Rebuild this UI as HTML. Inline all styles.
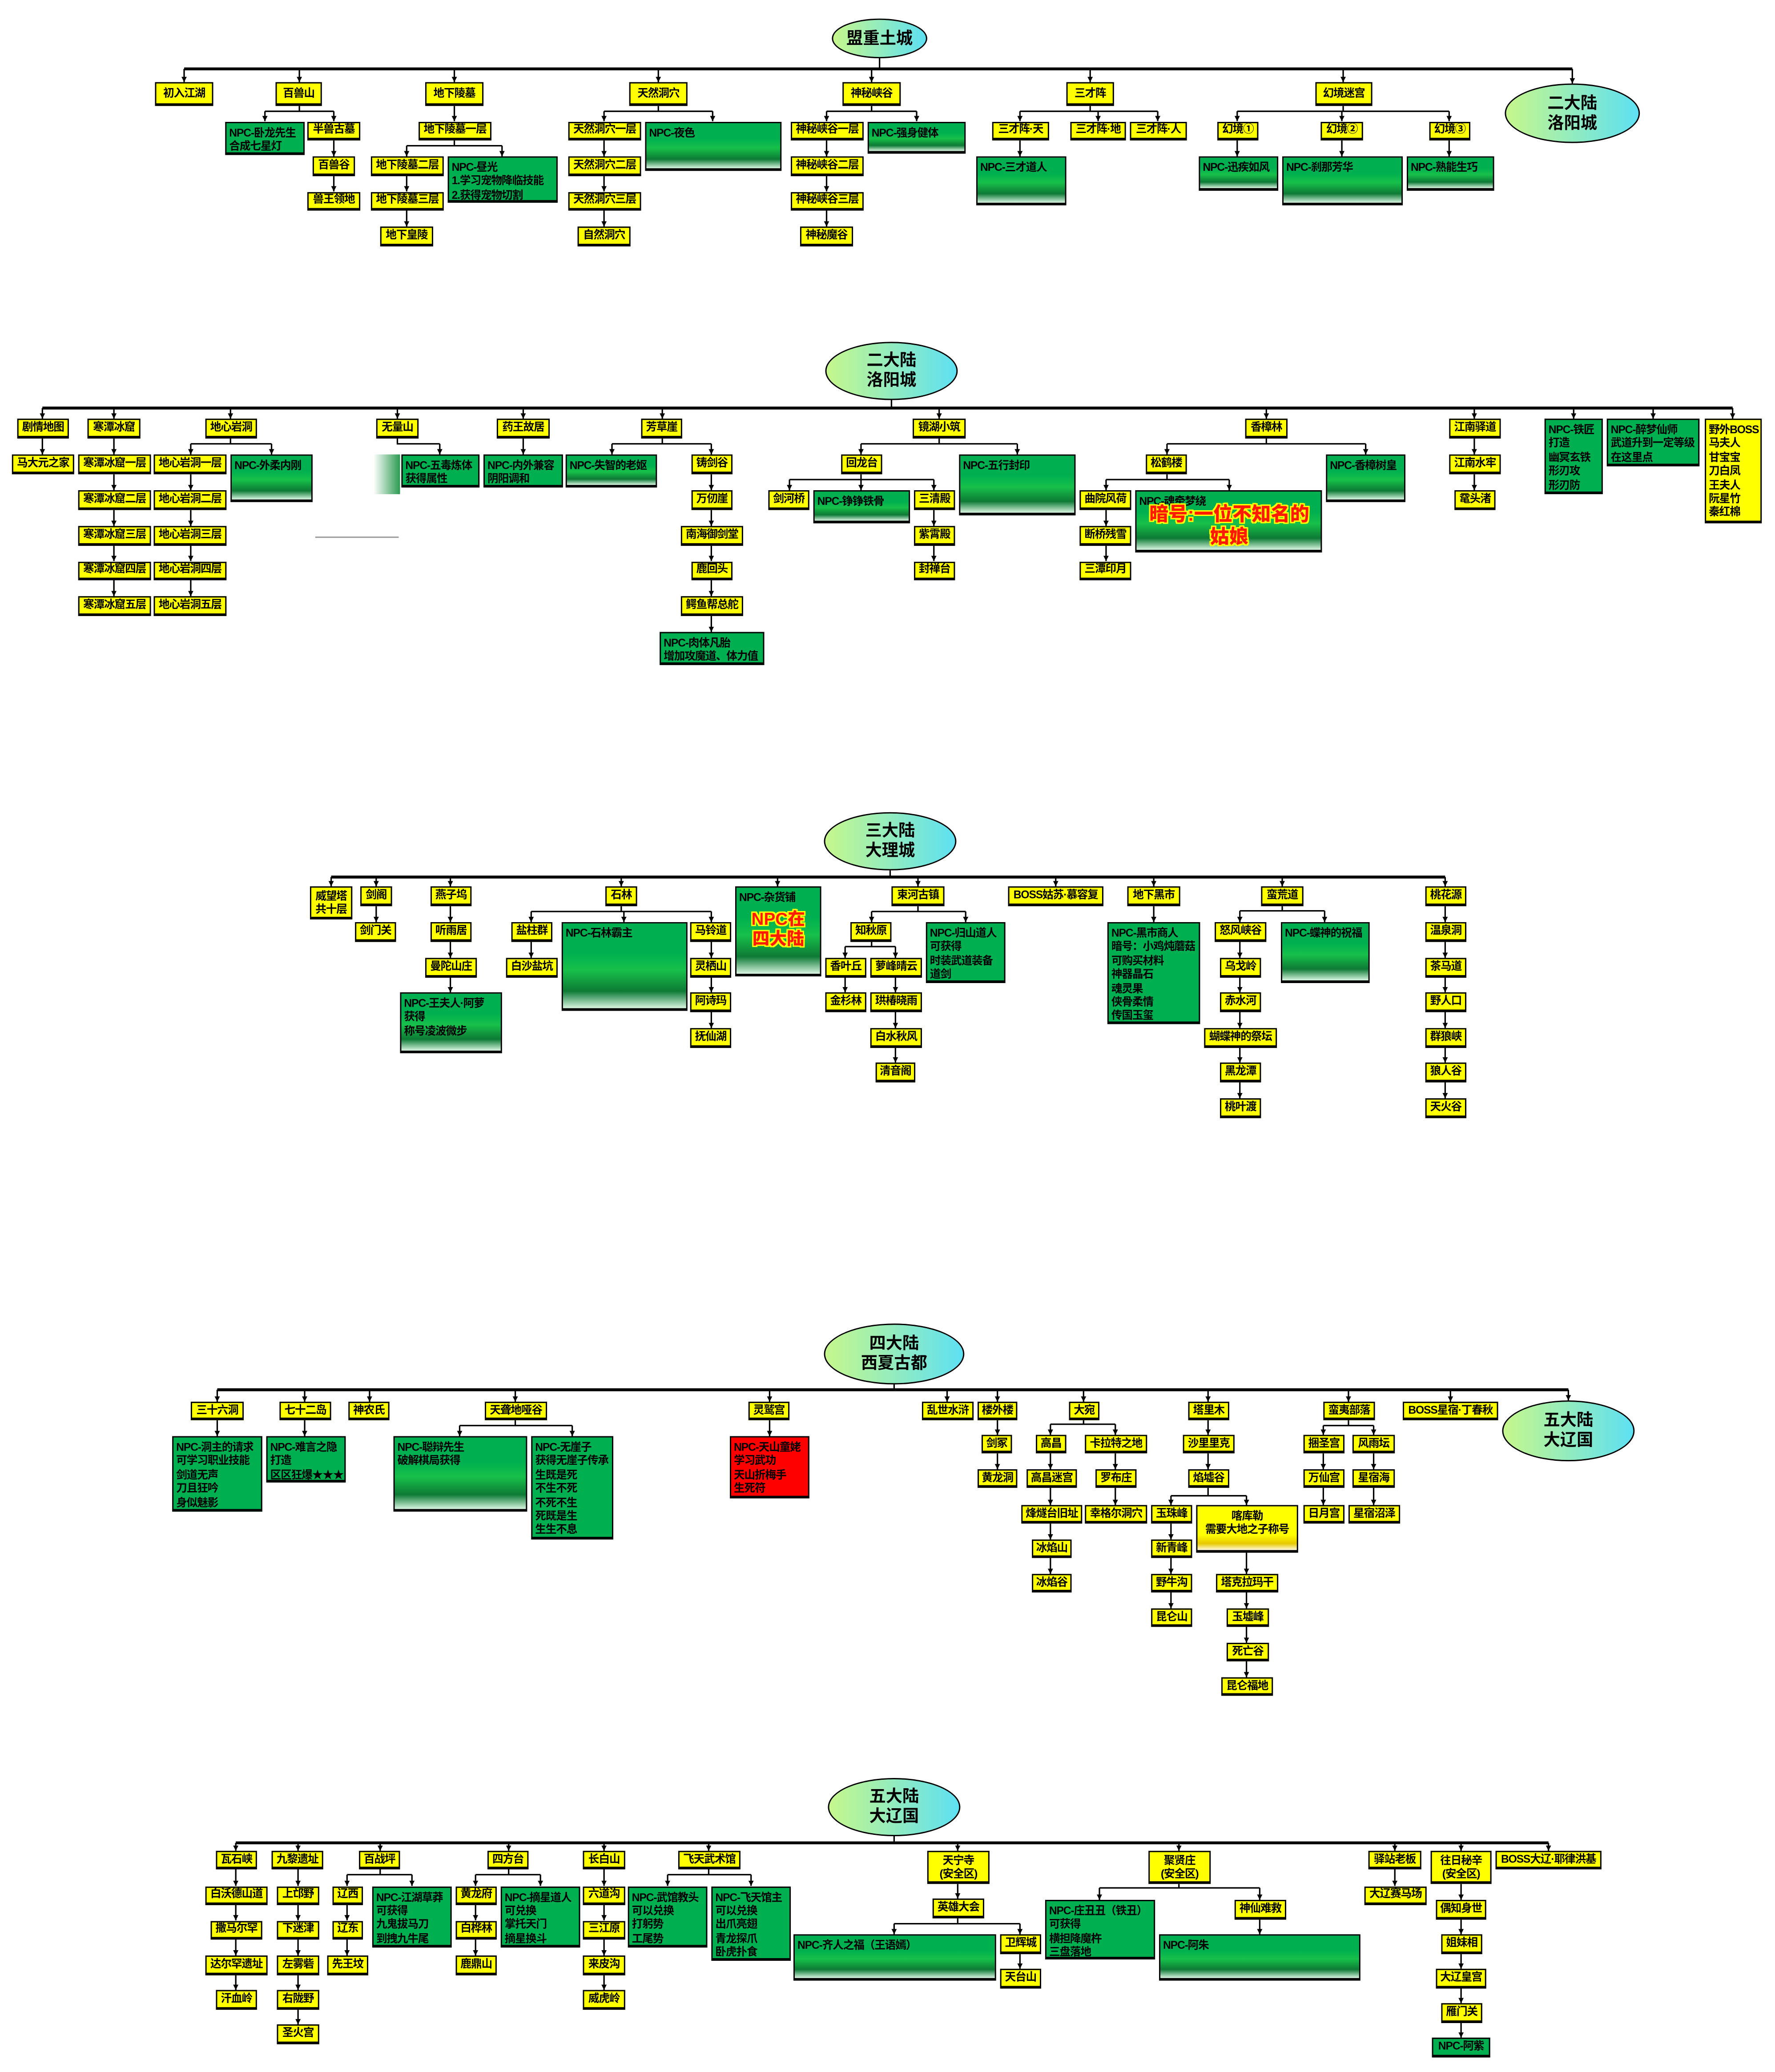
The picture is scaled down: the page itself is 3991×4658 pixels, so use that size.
<!DOCTYPE html>
<html><head><meta charset="utf-8">
<style>
html,body{margin:0;padding:0;background:#fff;}
body{width:3991px;height:4657px;overflow:hidden;position:relative;}
#c{position:absolute;left:0;top:0;width:1340px;height:1564px;transform:scale(2.97836);transform-origin:0 0;}
.b{position:absolute;box-sizing:border-box;border:1.2px solid #000;border-bottom-width:2px;border-top-width:1.6px;font-family:"Liberation Sans","Noto Sans CJK SC",sans-serif;font-weight:bold;font-size:8.3px;letter-spacing:-0.4px;display:flex;align-items:center;justify-content:center;white-space:nowrap;color:#000;overflow:visible;text-align:center;line-height:1.2;}
.y{background:#ffff00;}
.g{background:#00b050;display:block;text-align:left;padding:2px 2px;line-height:10.4px;}
.gb{background:linear-gradient(#00b050 0,#00b050 35%,#17c04a 55%,#0d7a35 80%,#d8f5e0 100%);}
.r{background:#ff0000;display:block;text-align:left;padding:2px 2px;line-height:10.4px;}
.e{position:absolute;box-sizing:border-box;border:1.6px solid #000;border-radius:50%;background:linear-gradient(90deg,#c6f78c,#5ee0f2);font-family:"Liberation Sans","Noto Sans CJK SC",sans-serif;font-weight:bold;font-size:12.5px;line-height:15px;display:flex;align-items:center;justify-content:center;text-align:center;}
.big{position:absolute;font-family:"Liberation Sans","Noto Sans CJK SC",sans-serif;font-weight:900;color:#ff1a00;text-shadow:1px 0 #ff0,-1px 0 #ff0,0 1px #ff0,0 -1px #ff0,1px 1px #ff0,-1px -1px #ff0,1px -1px #ff0,-1px 1px #ff0;white-space:nowrap;text-align:center;}
svg{position:absolute;left:0;top:0;}
svg line,svg path{stroke:#000;stroke-width:1.1;fill:none;}
svg .m{stroke-width:2.2;}
</style></head><body><div id="c">
<svg width="1340" height="1564" viewBox="0 0 1340 1564">
<defs><marker id="a" markerUnits="userSpaceOnUse" markerWidth="4" markerHeight="4" refX="4" refY="2" orient="auto"><path d="M0,0 L4,2 L0,4 z" style="fill:#000;stroke:none"/></marker></defs>
<g marker-end="url(#a)">
<!-- ROW1 -->
<path class="m" d="M139,52 H1187" marker-end="none"/>
<line x1="664" y1="44" x2="664" y2="52" marker-end="none"/>
<line x1="139" y1="52" x2="139" y2="62"/><line x1="226" y1="52" x2="226" y2="62"/><line x1="343" y1="52" x2="343" y2="62"/><line x1="497" y1="52" x2="497" y2="62"/><line x1="658" y1="52" x2="658" y2="62"/><line x1="823" y1="52" x2="823" y2="62"/><line x1="1014" y1="52" x2="1014" y2="62"/><line x1="1187" y1="52" x2="1187" y2="63"/>
<path d="M226,80 V84 M200,84 H252" marker-end="none"/><line x1="200" y1="84" x2="200" y2="91.5"/><line x1="252" y1="84" x2="252" y2="91.5"/>
<line x1="252" y1="106" x2="252" y2="118"/><line x1="252" y1="132" x2="252" y2="144.5"/>
<line x1="343" y1="80" x2="343" y2="91.5"/>
<path d="M343,106 V110 M307,110 H379" marker-end="none"/><line x1="307" y1="110" x2="307" y2="118"/><line x1="379" y1="110" x2="379" y2="118"/>
<line x1="307" y1="132" x2="307" y2="144.5"/><line x1="307" y1="158.5" x2="307" y2="171"/>
<path d="M497,80 V84 M456,84 H538" marker-end="none"/><line x1="456" y1="84" x2="456" y2="91.5"/><line x1="538" y1="84" x2="538" y2="91.5"/>
<line x1="456" y1="106" x2="456" y2="118"/><line x1="456" y1="132" x2="456" y2="144.5"/><line x1="456" y1="158.5" x2="456" y2="171"/>
<path d="M658,80 V84 M624,84 H692" marker-end="none"/><line x1="624" y1="84" x2="624" y2="91.5"/><line x1="692" y1="84" x2="692" y2="91.5"/>
<line x1="624" y1="106" x2="624" y2="118"/><line x1="624" y1="132" x2="624" y2="144.5"/><line x1="624" y1="158.5" x2="624" y2="171"/>
<path d="M823,80 V84 M770,84 H874" marker-end="none"/><line x1="770" y1="84" x2="770" y2="91.5"/><line x1="829" y1="84" x2="829" y2="91.5"/><line x1="874" y1="84" x2="874" y2="91.5"/>
<line x1="770" y1="106" x2="770" y2="118"/>
<path d="M1014,80 V84 M934,84 H1094" marker-end="none"/><line x1="934" y1="84" x2="934" y2="91.5"/><line x1="1013" y1="84" x2="1013" y2="91.5"/><line x1="1094" y1="84" x2="1094" y2="91.5"/>
<line x1="934" y1="106" x2="934" y2="118"/><line x1="1013" y1="106" x2="1013" y2="118"/><line x1="1094" y1="106" x2="1094" y2="118"/>
<!-- ROW2 -->
<path class="m" d="M32,308 H1308" marker-end="none"/>
<line x1="673" y1="302" x2="673" y2="308" marker-end="none"/>
<line x1="32" y1="308" x2="32" y2="316"/><line x1="86" y1="308" x2="86" y2="316"/><line x1="174" y1="308" x2="174" y2="316"/><line x1="300" y1="308" x2="300" y2="316"/><line x1="395" y1="308" x2="395" y2="316"/><line x1="500" y1="308" x2="500" y2="316"/><line x1="709" y1="308" x2="709" y2="316"/><line x1="956" y1="308" x2="956" y2="316"/><line x1="1113" y1="308" x2="1113" y2="316"/><line x1="1188" y1="308" x2="1188" y2="316"/><line x1="1248" y1="308" x2="1248" y2="316"/><line x1="1308" y1="308" x2="1308" y2="316"/>
<line x1="32" y1="331" x2="32" y2="343"/>
<line x1="86" y1="331" x2="86" y2="343"/><line x1="86" y1="358" x2="86" y2="370"/><line x1="86" y1="385" x2="86" y2="397"/><line x1="86" y1="411.5" x2="86" y2="423.5"/><line x1="86" y1="438" x2="86" y2="450"/>
<path d="M174,331 V335 M144,335 H205" marker-end="none"/><line x1="144" y1="335" x2="144" y2="343"/><line x1="205" y1="335" x2="205" y2="343"/>
<line x1="144" y1="358" x2="144" y2="370"/><line x1="144" y1="385" x2="144" y2="397"/><line x1="144" y1="411.5" x2="144" y2="423.5"/><line x1="144" y1="438" x2="144" y2="450"/>
<path d="M300,331 V335 H332" marker-end="none"/><line x1="332" y1="335" x2="332" y2="343"/>
<line x1="395" y1="331" x2="395" y2="343"/>
<path d="M500,331 V335 M462,335 H537" marker-end="none"/><line x1="462" y1="335" x2="462" y2="343"/><line x1="537" y1="335" x2="537" y2="343"/>
<line x1="537" y1="358" x2="537" y2="370"/><line x1="537" y1="385" x2="537" y2="397"/><line x1="537" y1="411.5" x2="537" y2="423.5"/><line x1="537" y1="438" x2="537" y2="450"/><line x1="537" y1="464.5" x2="537" y2="477"/>
<path d="M709,331 V335 M650,335 H768" marker-end="none"/><line x1="650" y1="335" x2="650" y2="343"/><line x1="768" y1="335" x2="768" y2="343"/>
<path d="M650,358 V362 M596,362 H705" marker-end="none"/><line x1="596" y1="362" x2="596" y2="370"/><line x1="650" y1="362" x2="650" y2="370"/><line x1="705" y1="362" x2="705" y2="370"/>
<line x1="705" y1="385" x2="705" y2="397"/><line x1="705" y1="411.5" x2="705" y2="423.5"/>
<path d="M956,331 V335 M881,335 H1031" marker-end="none"/><line x1="881" y1="335" x2="881" y2="343"/><line x1="1031" y1="335" x2="1031" y2="343"/>
<path d="M881,358 V362 M835,362 H928" marker-end="none"/><line x1="835" y1="362" x2="835" y2="370"/><line x1="928" y1="362" x2="928" y2="370"/>
<line x1="835" y1="385" x2="835" y2="397"/><line x1="835" y1="411.5" x2="835" y2="423.5"/>
<line x1="1113" y1="331" x2="1113" y2="343"/><line x1="1113" y1="358" x2="1113" y2="370"/>
<!-- ROW3 -->
<path class="m" d="M250,662 H1091" marker-end="none"/>
<line x1="672" y1="657" x2="672" y2="662" marker-end="none"/>
<line x1="250" y1="662" x2="250" y2="669"/><line x1="284" y1="662" x2="284" y2="669"/><line x1="340" y1="662" x2="340" y2="669"/><line x1="469" y1="662" x2="469" y2="669"/><line x1="587" y1="662" x2="587" y2="669"/><line x1="693" y1="662" x2="693" y2="669"/><line x1="797" y1="662" x2="797" y2="669"/><line x1="871" y1="662" x2="871" y2="669"/><line x1="968" y1="662" x2="968" y2="669"/><line x1="1091" y1="662" x2="1091" y2="669"/>
<line x1="284" y1="684" x2="284" y2="696"/>
<line x1="340" y1="684" x2="340" y2="696"/><line x1="340" y1="710.5" x2="340" y2="723"/><line x1="340" y1="737.5" x2="340" y2="749"/>
<path d="M469,684 V688 M401,688 H537" marker-end="none"/><line x1="401" y1="688" x2="401" y2="696"/><line x1="471" y1="688" x2="471" y2="696"/><line x1="537" y1="688" x2="537" y2="696"/>
<line x1="401" y1="710.5" x2="401" y2="723"/>
<line x1="537" y1="710.5" x2="537" y2="723"/><line x1="537" y1="737.5" x2="537" y2="749"/><line x1="537" y1="763.5" x2="537" y2="776"/>
<path d="M693,684 V688 M658,688 H729" marker-end="none"/><line x1="658" y1="688" x2="658" y2="696"/><line x1="729" y1="688" x2="729" y2="696"/>
<path d="M658,710.5 V714.5 M638,714.5 H676" marker-end="none"/><line x1="638" y1="714.5" x2="638" y2="723"/><line x1="676" y1="714.5" x2="676" y2="723"/>
<line x1="638" y1="737.5" x2="638" y2="749"/><line x1="676" y1="737.5" x2="676" y2="749"/><line x1="676" y1="763.5" x2="676" y2="776"/><line x1="676" y1="790.5" x2="676" y2="802"/>
<line x1="871" y1="684" x2="871" y2="696"/>
<path d="M968,684 V687.5 M936,687.5 H1000" marker-end="none"/><line x1="936" y1="687.5" x2="936" y2="696"/><line x1="1000" y1="687.5" x2="1000" y2="696"/>
<line x1="936" y1="710.5" x2="936" y2="723"/><line x1="936" y1="737.5" x2="936" y2="749"/><line x1="936" y1="763.5" x2="936" y2="776"/><line x1="936" y1="790.5" x2="936" y2="802"/><line x1="936" y1="816.5" x2="936" y2="829"/>
<line x1="1091" y1="684" x2="1091" y2="696"/><line x1="1091" y1="710.5" x2="1091" y2="723"/><line x1="1091" y1="737.5" x2="1091" y2="749"/><line x1="1091" y1="763.5" x2="1091" y2="776"/><line x1="1091" y1="790.5" x2="1091" y2="802"/><line x1="1091" y1="816.5" x2="1091" y2="829"/>
<!-- ROW4 -->
<path class="m" d="M164,1049 H1184" marker-end="none"/>
<line x1="675" y1="1045" x2="675" y2="1049" marker-end="none"/>
<line x1="164" y1="1049" x2="164" y2="1058"/><line x1="230" y1="1049" x2="230" y2="1058"/><line x1="279" y1="1049" x2="279" y2="1058"/><line x1="389" y1="1049" x2="389" y2="1058"/><line x1="581" y1="1049" x2="581" y2="1058"/><line x1="715" y1="1049" x2="715" y2="1058"/><line x1="753" y1="1049" x2="753" y2="1058"/><line x1="818" y1="1049" x2="818" y2="1058"/><line x1="912" y1="1049" x2="912" y2="1058"/><line x1="1018" y1="1049" x2="1018" y2="1058"/><line x1="1095" y1="1049" x2="1095" y2="1058"/><line x1="1184" y1="1049" x2="1184" y2="1057"/>
<line x1="164" y1="1072" x2="164" y2="1084"/><line x1="230" y1="1072" x2="230" y2="1084"/>
<path d="M389,1072 V1076 M347,1076 H432" marker-end="none"/><line x1="347" y1="1076" x2="347" y2="1084"/><line x1="432" y1="1076" x2="432" y2="1084"/>
<line x1="581" y1="1072" x2="581" y2="1084"/>
<line x1="753" y1="1072" x2="753" y2="1083"/><line x1="753" y1="1097" x2="753" y2="1109"/>
<path d="M818,1072 V1075 M793,1075 H842" marker-end="none"/><line x1="793" y1="1075" x2="793" y2="1083"/><line x1="842" y1="1075" x2="842" y2="1083"/>
<line x1="793" y1="1097" x2="793" y2="1109"/><line x1="793" y1="1123" x2="793" y2="1136"/><line x1="793" y1="1150" x2="793" y2="1162"/><line x1="793" y1="1176" x2="793" y2="1188"/>
<line x1="842" y1="1097" x2="842" y2="1109"/><line x1="842" y1="1123" x2="842" y2="1136"/>
<line x1="912" y1="1072" x2="912" y2="1083"/><line x1="912" y1="1097" x2="912" y2="1109"/>
<path d="M912,1123 V1129 M884,1129 H941" marker-end="none"/><line x1="884" y1="1129" x2="884" y2="1136"/><line x1="941" y1="1129" x2="941" y2="1136"/>
<line x1="884" y1="1150" x2="884" y2="1162"/><line x1="884" y1="1176" x2="884" y2="1188"/><line x1="884" y1="1202" x2="884" y2="1214"/>
<line x1="941" y1="1172" x2="941" y2="1188"/><line x1="941" y1="1202" x2="941" y2="1214"/><line x1="941" y1="1228" x2="941" y2="1240"/><line x1="941" y1="1254" x2="941" y2="1266"/>
<path d="M1018,1072 V1076 M999,1076 H1037" marker-end="none"/><line x1="999" y1="1076" x2="999" y2="1083"/><line x1="1037" y1="1076" x2="1037" y2="1083"/>
<line x1="999" y1="1097" x2="999" y2="1109"/><line x1="999" y1="1123" x2="999" y2="1136"/><line x1="1037" y1="1097" x2="1037" y2="1109"/><line x1="1037" y1="1123" x2="1037" y2="1136"/>
<!-- ROW5 -->
<path class="m" d="M178,1391 H1169" marker-end="none"/>
<line x1="675" y1="1386" x2="675" y2="1391" marker-end="none"/>
<line x1="178" y1="1391" x2="178" y2="1397"/><line x1="225" y1="1391" x2="225" y2="1397"/><line x1="287" y1="1391" x2="287" y2="1397"/><line x1="384" y1="1391" x2="384" y2="1397"/><line x1="456" y1="1391" x2="456" y2="1397"/><line x1="535" y1="1391" x2="535" y2="1397"/><line x1="723" y1="1391" x2="723" y2="1397"/><line x1="890" y1="1391" x2="890" y2="1397"/><line x1="1053" y1="1391" x2="1053" y2="1397"/><line x1="1103" y1="1391" x2="1103" y2="1397"/><line x1="1169" y1="1391" x2="1169" y2="1397"/>
<line x1="178" y1="1411" x2="178" y2="1423.5"/><line x1="178" y1="1438" x2="178" y2="1449.5"/><line x1="178" y1="1464" x2="178" y2="1476"/><line x1="178" y1="1490.5" x2="178" y2="1502"/>
<line x1="225" y1="1411" x2="225" y2="1423.5"/><line x1="225" y1="1438" x2="225" y2="1449.5"/><line x1="225" y1="1464" x2="225" y2="1476"/><line x1="225" y1="1490.5" x2="225" y2="1502"/><line x1="225" y1="1516.5" x2="225" y2="1528"/>
<path d="M287,1411 V1415 M262,1415 H311" marker-end="none"/><line x1="262" y1="1415" x2="262" y2="1423.5"/><line x1="311" y1="1415" x2="311" y2="1423.5"/>
<line x1="262" y1="1438" x2="262" y2="1449.5"/><line x1="262" y1="1464" x2="262" y2="1476"/>
<path d="M384,1411 V1415 M359,1415 H408" marker-end="none"/><line x1="359" y1="1415" x2="359" y2="1423.5"/><line x1="408" y1="1415" x2="408" y2="1423.5"/>
<line x1="359" y1="1438" x2="359" y2="1449.5"/><line x1="359" y1="1464" x2="359" y2="1476"/>
<line x1="456" y1="1411" x2="456" y2="1423.5"/><line x1="456" y1="1438" x2="456" y2="1449.5"/><line x1="456" y1="1464" x2="456" y2="1476"/><line x1="456" y1="1490.5" x2="456" y2="1502"/>
<path d="M535,1411 V1415 M504,1415 H567" marker-end="none"/><line x1="504" y1="1415" x2="504" y2="1423.5"/><line x1="567" y1="1415" x2="567" y2="1423.5"/>
<line x1="723" y1="1422" x2="723" y2="1433"/>
<path d="M723,1448 V1452 M675,1452 H770" marker-end="none"/><line x1="675" y1="1452" x2="675" y2="1460"/><line x1="770" y1="1452" x2="770" y2="1460"/>
<line x1="770" y1="1474" x2="770" y2="1486"/>
<path d="M890,1422 V1425 M830,1425 H951" marker-end="none"/><line x1="830" y1="1425" x2="830" y2="1434"/><line x1="951" y1="1425" x2="951" y2="1434"/>
<line x1="951" y1="1448" x2="951" y2="1460"/>
<line x1="1053" y1="1411" x2="1053" y2="1423.5"/>
<line x1="1103" y1="1422" x2="1103" y2="1434"/><line x1="1103" y1="1448" x2="1103" y2="1460"/><line x1="1103" y1="1474" x2="1103" y2="1486"/><line x1="1103" y1="1500.5" x2="1103" y2="1512"/><line x1="1103" y1="1527" x2="1103" y2="1538"/>
</g>
</svg>

<!-- ROW1 -->
<div class="e" style="left:628px;top:14px;width:72px;height:30px">盟重土城</div>
<div class="e" style="left:1136px;top:63px;width:102px;height:45px">二大陆<br>洛阳城</div>
<div class="b y" style="left:117px;top:62px;width:44px;height:18px">初入江湖</div>
<div class="b y" style="left:208px;top:62px;width:35px;height:18px">百兽山</div>
<div class="b y" style="left:321px;top:62px;width:44px;height:18px">地下陵墓</div>
<div class="b y" style="left:475px;top:62px;width:44px;height:18px">天然洞穴</div>
<div class="b y" style="left:636px;top:62px;width:44px;height:18px">神秘峡谷</div>
<div class="b y" style="left:805px;top:62px;width:36px;height:18px">三才阵</div>
<div class="b y" style="left:993px;top:62px;width:43px;height:18px">幻境迷宫</div>
<div class="b g" style="left:170px;top:91.5px;width:60px;height:25px">NPC-卧龙先生<br>合成七星灯</div>
<div class="b y" style="left:232px;top:91.5px;width:40px;height:14.5px">半兽古墓</div>
<div class="b y" style="left:236px;top:118px;width:32px;height:14.5px">百兽谷</div>
<div class="b y" style="left:232px;top:144.5px;width:40px;height:14.5px">兽王领地</div>
<div class="b y" style="left:316px;top:91.5px;width:55px;height:14.5px">地下陵墓一层</div>
<div class="b y" style="left:280px;top:118px;width:55px;height:14.5px">地下陵墓二层</div>
<div class="b g" style="left:338px;top:118px;width:83px;height:35px">NPC-昼光<br>1.学习宠物降临技能<br>2.获得宠物切割</div>
<div class="b y" style="left:280px;top:144.5px;width:55px;height:14.5px">地下陵墓三层</div>
<div class="b y" style="left:287px;top:171px;width:40px;height:14.5px">地下皇陵</div>
<div class="b y" style="left:429px;top:91.5px;width:55px;height:14.5px">天然洞穴一层</div>
<div class="b g gb" style="left:487px;top:91.5px;width:103px;height:37px">NPC-夜色</div>
<div class="b y" style="left:429px;top:118px;width:55px;height:14.5px">天然洞穴二层</div>
<div class="b y" style="left:429px;top:144.5px;width:55px;height:14.5px">天然洞穴三层</div>
<div class="b y" style="left:436px;top:171px;width:40px;height:14.5px">自然洞穴</div>
<div class="b y" style="left:597px;top:91.5px;width:55px;height:14.5px">神秘峡谷一层</div>
<div class="b g gb" style="left:655px;top:91.5px;width:74px;height:24px">NPC-强身健体</div>
<div class="b y" style="left:597px;top:118px;width:55px;height:14.5px">神秘峡谷二层</div>
<div class="b y" style="left:597px;top:144.5px;width:55px;height:14.5px">神秘峡谷三层</div>
<div class="b y" style="left:604px;top:171px;width:40px;height:14.5px">神秘魔谷</div>
<div class="b y" style="left:749px;top:91.5px;width:43px;height:14.5px">三才阵·天</div>
<div class="b y" style="left:808px;top:91.5px;width:42px;height:14.5px">三才阵·地</div>
<div class="b y" style="left:853px;top:91.5px;width:43px;height:14.5px">三才阵·人</div>
<div class="b g gb" style="left:737px;top:118px;width:68px;height:37px">NPC-三才道人</div>
<div class="b y" style="left:919px;top:91.5px;width:31px;height:14.5px">幻境①</div>
<div class="b y" style="left:997px;top:91.5px;width:32px;height:14.5px">幻境②</div>
<div class="b y" style="left:1079px;top:91.5px;width:31px;height:14.5px">幻境③</div>
<div class="b g gb" style="left:905px;top:118px;width:60px;height:26px">NPC-迅疾如风</div>
<div class="b g gb" style="left:968px;top:118px;width:91px;height:37px">NPC-刹那芳华</div>
<div class="b g gb" style="left:1062px;top:118px;width:66px;height:26px">NPC-熟能生巧</div>

<!-- ROW2 -->
<div class="e" style="left:623px;top:258px;width:100px;height:44px">二大陆<br>洛阳城</div>
<div class="b y" style="left:13px;top:316px;width:39px;height:15px">剧情地图</div>
<div class="b y" style="left:66px;top:316px;width:40px;height:15px">寒潭冰窟</div>
<div class="b y" style="left:155px;top:316px;width:39px;height:15px">地心岩洞</div>
<div class="b y" style="left:284px;top:316px;width:32px;height:15px">无量山</div>
<div class="b y" style="left:375px;top:316px;width:40px;height:15px">药王故居</div>
<div class="b y" style="left:484px;top:316px;width:31px;height:15px">芳草崖</div>
<div class="b y" style="left:689px;top:316px;width:40px;height:15px">镜湖小筑</div>
<div class="b y" style="left:940px;top:316px;width:32px;height:15px">香樟林</div>
<div class="b y" style="left:1094px;top:316px;width:39px;height:15px">江南驿道</div>
<div class="b g" style="left:1166px;top:316px;width:44px;height:57px">NPC-铁匠<br>打造<br>幽冥玄铁<br>形刃攻<br>形刃防</div>
<div class="b g" style="left:1213px;top:316px;width:70px;height:36px">NPC-醉梦仙师<br>武道升到一定等级<br>在这里点</div>
<div class="b y" style="left:1287px;top:316px;width:43px;height:79px;display:block;text-align:left;padding:2px;line-height:10.4px">野外BOSS<br>马夫人<br>甘宝宝<br>刀白凤<br>王夫人<br>阮星竹<br>秦红棉</div>
<div class="b y" style="left:9px;top:343px;width:47px;height:15px">马大元之家</div>
<div class="b y" style="left:59px;top:343px;width:55px;height:15px">寒潭冰窟一层</div>
<div class="b y" style="left:59px;top:370px;width:55px;height:15px">寒潭冰窟二层</div>
<div class="b y" style="left:59px;top:397px;width:55px;height:14.5px">寒潭冰窟三层</div>
<div class="b y" style="left:59px;top:423.5px;width:55px;height:14.5px">寒潭冰窟四层</div>
<div class="b y" style="left:59px;top:450px;width:55px;height:14.5px">寒潭冰窟五层</div>
<div class="b y" style="left:116px;top:343px;width:55px;height:15px">地心岩洞一层</div>
<div class="b y" style="left:116px;top:370px;width:55px;height:15px">地心岩洞二层</div>
<div class="b y" style="left:116px;top:397px;width:55px;height:14.5px">地心岩洞三层</div>
<div class="b y" style="left:116px;top:423.5px;width:55px;height:14.5px">地心岩洞四层</div>
<div class="b y" style="left:116px;top:450px;width:55px;height:14.5px">地心岩洞五层</div>
<div class="b g gb" style="left:174px;top:343px;width:62px;height:36px">NPC-外柔内刚</div>
<div style="position:absolute;left:238px;top:405px;width:63px;height:1px;background:#999"></div>
<div style="position:absolute;left:282px;top:343px;width:20px;height:30px;background:linear-gradient(90deg,#fff,#2a9a50)"></div>
<div class="b g" style="left:303px;top:343px;width:59px;height:25px">NPC-五毒炼体<br>获得属性</div>
<div class="b g" style="left:365px;top:343px;width:60px;height:25px">NPC-内外兼容<br>阴阳调和</div>
<div class="b g gb" style="left:427px;top:343px;width:69px;height:25px">NPC-失智的老妪</div>
<div class="b y" style="left:522px;top:343px;width:31px;height:15px">铸剑谷</div>
<div class="b y" style="left:522px;top:370px;width:31px;height:15px">万仞崖</div>
<div class="b y" style="left:514px;top:397px;width:47px;height:14.5px">南海御剑堂</div>
<div class="b y" style="left:522px;top:423.5px;width:31px;height:14.5px">鹿回头</div>
<div class="b y" style="left:514px;top:450px;width:47px;height:14.5px">鳄鱼帮总舵</div>
<div class="b g" style="left:498px;top:477px;width:79px;height:25px">NPC-肉体凡胎<br>增加攻魔道、体力值</div>
<div class="b y" style="left:635px;top:343px;width:31px;height:15px">回龙台</div>
<div class="b g gb" style="left:724px;top:343px;width:88px;height:46px">NPC-五行封印</div>
<div class="b y" style="left:580px;top:370px;width:31px;height:15px">剑河桥</div>
<div class="b g gb" style="left:614px;top:370px;width:73px;height:25px">NPC-铮铮铁骨</div>
<div class="b y" style="left:690px;top:370px;width:31px;height:15px">三清殿</div>
<div class="b y" style="left:690px;top:397px;width:31px;height:14.5px">紫霄殿</div>
<div class="b y" style="left:690px;top:423.5px;width:31px;height:14.5px">封禅台</div>
<div class="b y" style="left:865px;top:343px;width:31px;height:15px">松鹤楼</div>
<div class="b g gb" style="left:1001px;top:343px;width:60px;height:36px">NPC-香樟树皇</div>
<div class="b y" style="left:815px;top:370px;width:39px;height:15px">曲院风荷</div>
<div class="b g gb" style="left:857px;top:370px;width:141px;height:47px">NPC-魂牵梦绕</div>
<div class="big" style="left:860px;top:381px;width:136px;font-size:14.5px;line-height:17px">暗号:一位不知名的<br>姑娘</div>
<div class="b y" style="left:815px;top:397px;width:39px;height:14.5px">断桥残雪</div>
<div class="b y" style="left:815px;top:423.5px;width:39px;height:14.5px">三潭印月</div>
<div class="b y" style="left:1094px;top:343px;width:39px;height:15px">江南水牢</div>
<div class="b y" style="left:1098px;top:370px;width:31px;height:15px">鼋头渚</div>

<!-- ROW3 -->
<div class="e" style="left:622px;top:613px;width:100px;height:44px">三大陆<br>大理城</div>
<div class="b y" style="left:234px;top:669px;width:32px;height:25px;line-height:10.5px">威望塔<br>共十层</div>
<div class="b y" style="left:272px;top:669px;width:24px;height:15px">剑阁</div>
<div class="b y" style="left:325px;top:669px;width:31px;height:15px">燕子坞</div>
<div class="b y" style="left:457px;top:669px;width:24px;height:15px">石林</div>
<div class="b g gb" style="left:555px;top:669px;width:65px;height:68px">NPC-杂货铺</div>
<div class="big" style="left:557px;top:686px;width:61px;font-size:13px;line-height:15px">NPC在<br>四大陆</div>
<div class="b y" style="left:673px;top:669px;width:40px;height:15px">束河古镇</div>
<div class="b y" style="left:761px;top:669px;width:72px;height:15px">BOSS姑苏·慕容复</div>
<div class="b y" style="left:851px;top:669px;width:40px;height:15px">地下黑市</div>
<div class="b y" style="left:952px;top:669px;width:32px;height:15px">蛮荒道</div>
<div class="b y" style="left:1076px;top:669px;width:31px;height:15px">桃花源</div>
<div class="b y" style="left:268px;top:696px;width:31px;height:14.5px">剑门关</div>
<div class="b y" style="left:325px;top:696px;width:31px;height:14.5px">听雨居</div>
<div class="b y" style="left:321px;top:723px;width:39px;height:14.5px">曼陀山庄</div>
<div class="b g gb" style="left:302px;top:749px;width:77px;height:46px">NPC-王夫人·阿萝<br>获得<br>称号凌波微步</div>
<div class="b y" style="left:386px;top:696px;width:31px;height:14.5px">盐柱群</div>
<div class="b y" style="left:382px;top:723px;width:39px;height:14.5px">白沙盐坑</div>
<div class="b g gb" style="left:424px;top:696px;width:95px;height:67px">NPC-石林霸主</div>
<div class="b y" style="left:521px;top:696px;width:31px;height:14.5px">马铃道</div>
<div class="b y" style="left:521px;top:723px;width:31px;height:14.5px">灵栖山</div>
<div class="b y" style="left:521px;top:749px;width:31px;height:14.5px">阿诗玛</div>
<div class="b y" style="left:521px;top:776px;width:31px;height:14.5px">抚仙湖</div>
<div class="b y" style="left:642px;top:696px;width:31px;height:14.5px">知秋原</div>
<div class="b g" style="left:699px;top:696px;width:60px;height:46px">NPC-归山道人<br>可获得<br>时装武道装备<br>道剑</div>
<div class="b y" style="left:623px;top:723px;width:31px;height:14.5px">香叶丘</div>
<div class="b y" style="left:657px;top:723px;width:39px;height:14.5px">萝峰晴云</div>
<div class="b y" style="left:623px;top:749px;width:31px;height:14.5px">金杉林</div>
<div class="b y" style="left:657px;top:749px;width:39px;height:14.5px">珙椿晓雨</div>
<div class="b y" style="left:657px;top:776px;width:39px;height:14.5px">白水秋风</div>
<div class="b y" style="left:661px;top:802px;width:30px;height:14.5px">清音阁</div>
<div class="b g" style="left:836px;top:696px;width:70px;height:77px">NPC-黑市商人<br>暗号：小鸡炖蘑菇<br>可购买材料<br>神器晶石<br>魂灵果<br>侠骨柔情<br>传国玉玺</div>
<div class="b y" style="left:917px;top:696px;width:39px;height:14.5px">怒风峡谷</div>
<div class="b g gb" style="left:967px;top:696px;width:67px;height:46px">NPC-蝶神的祝福</div>
<div class="b y" style="left:921px;top:723px;width:31px;height:14.5px">乌戈岭</div>
<div class="b y" style="left:921px;top:749px;width:31px;height:14.5px">赤水河</div>
<div class="b y" style="left:909px;top:776px;width:55px;height:14.5px">蝴蝶神的祭坛</div>
<div class="b y" style="left:921px;top:802px;width:31px;height:14.5px">黑龙潭</div>
<div class="b y" style="left:921px;top:829px;width:31px;height:14.5px">桃叶渡</div>
<div class="b y" style="left:1076px;top:696px;width:31px;height:14.5px">温泉洞</div>
<div class="b y" style="left:1076px;top:723px;width:31px;height:14.5px">茶马道</div>
<div class="b y" style="left:1076px;top:749px;width:31px;height:14.5px">野人口</div>
<div class="b y" style="left:1076px;top:776px;width:31px;height:14.5px">群狼峡</div>
<div class="b y" style="left:1076px;top:802px;width:31px;height:14.5px">狼人谷</div>
<div class="b y" style="left:1076px;top:829px;width:31px;height:14.5px">天火谷</div>

<!-- ROW4 -->
<div class="e" style="left:622px;top:999px;width:106px;height:46px">四大陆<br>西夏古都</div>
<div class="e" style="left:1134px;top:1057px;width:100px;height:46px">五大陆<br>大辽国</div>
<div class="b y" style="left:144px;top:1058px;width:40px;height:14px">三十六洞</div>
<div class="b y" style="left:211px;top:1058px;width:39px;height:14px">七十二岛</div>
<div class="b y" style="left:263px;top:1058px;width:31px;height:14px">神农氏</div>
<div class="b y" style="left:366px;top:1058px;width:47px;height:14px">天聋地哑谷</div>
<div class="b y" style="left:565px;top:1058px;width:31px;height:14px">灵鹫宫</div>
<div class="b y" style="left:696px;top:1058px;width:39px;height:14px">乱世水浒</div>
<div class="b y" style="left:738px;top:1058px;width:30px;height:14px">楼外楼</div>
<div class="b y" style="left:807px;top:1058px;width:23px;height:14px">大宛</div>
<div class="b y" style="left:897px;top:1058px;width:31px;height:14px">塔里木</div>
<div class="b y" style="left:999px;top:1058px;width:39px;height:14px">蛮夷部落</div>
<div class="b y" style="left:1059px;top:1058px;width:72px;height:14px">BOSS星宿·丁春秋</div>
<div class="b g" style="left:130px;top:1084px;width:68px;height:57px">NPC-洞主的请求<br>可学习职业技能<br>剑道无声<br>刀且狂吟<br>身似魅影</div>
<div class="b g" style="left:201px;top:1084px;width:60px;height:35px">NPC-难言之隐<br>打造<br>区区狂爆★★★</div>
<div class="b g gb" style="left:297px;top:1084px;width:101px;height:57px">NPC-聪辩先生<br>破解棋局获得</div>
<div class="b g" style="left:401px;top:1084px;width:62px;height:78px">NPC-无崖子<br>获得无崖子传承<br>生既是死<br>不生不死<br>不死不生<br>死既是生<br>生生不息</div>
<div class="b r" style="left:551px;top:1084px;width:60px;height:47px">NPC-天山童姥<br>学习武功<br>天山折梅手<br>生死符</div>
<div class="b y" style="left:741px;top:1083px;width:23px;height:14px">剑冢</div>
<div class="b y" style="left:738px;top:1109px;width:30px;height:14px">黄龙洞</div>
<div class="b y" style="left:782px;top:1083px;width:23px;height:14px">高昌</div>
<div class="b y" style="left:819px;top:1083px;width:47px;height:14px">卡拉特之地</div>
<div class="b y" style="left:775px;top:1109px;width:38px;height:14px">高昌迷宫</div>
<div class="b y" style="left:827px;top:1109px;width:31px;height:14px">罗布庄</div>
<div class="b y" style="left:771px;top:1136px;width:46px;height:14px">烽燧台旧址</div>
<div class="b y" style="left:819px;top:1136px;width:47px;height:14px">幸格尔洞穴</div>
<div class="b y" style="left:779px;top:1162px;width:30px;height:14px">冰焰山</div>
<div class="b y" style="left:779px;top:1188px;width:30px;height:14px">冰焰谷</div>
<div class="b y" style="left:893px;top:1083px;width:39px;height:14px">沙里里克</div>
<div class="b y" style="left:897px;top:1109px;width:31px;height:14px">焰墟谷</div>
<div class="b y" style="left:869px;top:1136px;width:31px;height:14px">玉珠峰</div>
<div class="b y" style="left:903px;top:1136px;width:77px;height:36px;display:block;padding-top:2px;line-height:10.4px;background:linear-gradient(#ff0 0,#ff0 65%,#e8c800 85%,#fffbe0 100%)">喀库勒<br>需要大地之子称号</div>
<div class="b y" style="left:869px;top:1162px;width:31px;height:14px">新青峰</div>
<div class="b y" style="left:869px;top:1188px;width:31px;height:14px">野牛沟</div>
<div class="b y" style="left:869px;top:1214px;width:31px;height:14px">昆仑山</div>
<div class="b y" style="left:918px;top:1188px;width:47px;height:14px">塔克拉玛干</div>
<div class="b y" style="left:926px;top:1214px;width:32px;height:14px">玉墟峰</div>
<div class="b y" style="left:926px;top:1240px;width:32px;height:14px">死亡谷</div>
<div class="b y" style="left:922px;top:1266px;width:39px;height:14px">昆仑福地</div>
<div class="b y" style="left:984px;top:1083px;width:31px;height:14px">捆圣宫</div>
<div class="b y" style="left:1021px;top:1083px;width:32px;height:14px">风雨坛</div>
<div class="b y" style="left:984px;top:1109px;width:31px;height:14px">万仙宫</div>
<div class="b y" style="left:1021px;top:1109px;width:32px;height:14px">星宿海</div>
<div class="b y" style="left:984px;top:1136px;width:31px;height:14px">日月宫</div>
<div class="b y" style="left:1018px;top:1136px;width:39px;height:14px">星宿沼泽</div>

<!-- ROW5 -->
<div class="e" style="left:625px;top:1342px;width:100px;height:44px">五大陆<br>大辽国</div>
<div class="b y" style="left:163px;top:1397px;width:31px;height:14px">瓦石峡</div>
<div class="b y" style="left:205px;top:1397px;width:39px;height:14px">九黎遗址</div>
<div class="b y" style="left:271px;top:1397px;width:31px;height:14px">百战坪</div>
<div class="b y" style="left:368px;top:1397px;width:31px;height:14px">四方台</div>
<div class="b y" style="left:440px;top:1397px;width:32px;height:14px">长白山</div>
<div class="b y" style="left:512px;top:1397px;width:47px;height:14px">飞天武术馆</div>
<div class="b y" style="left:700px;top:1397px;width:47px;height:25px;line-height:10.5px">天宁寺<br>(安全区)</div>
<div class="b y" style="left:867px;top:1397px;width:47px;height:25px;line-height:10.5px">聚贤庄<br>(安全区)</div>
<div class="b y" style="left:1033px;top:1397px;width:40px;height:14px">驿站老板</div>
<div class="b y" style="left:1080px;top:1397px;width:46px;height:25px;line-height:10.5px">往日秘辛<br>(安全区)</div>
<div class="b y" style="left:1129px;top:1397px;width:80px;height:14px">BOSS大辽·耶律洪基</div>
<div class="b y" style="left:155px;top:1423.5px;width:47px;height:14.5px">白沃德山道</div>
<div class="b y" style="left:159px;top:1449.5px;width:39px;height:14.5px">撒马尔罕</div>
<div class="b y" style="left:155px;top:1476px;width:47px;height:14.5px">达尔罕遗址</div>
<div class="b y" style="left:163px;top:1502px;width:31px;height:14.5px">汗血岭</div>
<div class="b y" style="left:209px;top:1423.5px;width:32px;height:14.5px">上邙野</div>
<div class="b y" style="left:209px;top:1449.5px;width:32px;height:14.5px">下迷津</div>
<div class="b y" style="left:209px;top:1476px;width:32px;height:14.5px">左雾砦</div>
<div class="b y" style="left:209px;top:1502px;width:32px;height:14.5px">右陇野</div>
<div class="b y" style="left:209px;top:1528px;width:32px;height:14.5px">圣火宫</div>
<div class="b y" style="left:251px;top:1423.5px;width:23px;height:14.5px">辽西</div>
<div class="b y" style="left:251px;top:1449.5px;width:23px;height:14.5px">辽东</div>
<div class="b y" style="left:247px;top:1476px;width:31px;height:14.5px">先王坟</div>
<div class="b g" style="left:281px;top:1423.5px;width:60px;height:46px">NPC-江湖草莽<br>可获得<br>九鬼拔马刀<br>到拽九牛尾</div>
<div class="b y" style="left:344px;top:1423.5px;width:31px;height:14.5px">黄龙府</div>
<div class="b y" style="left:344px;top:1449.5px;width:31px;height:14.5px">白桦林</div>
<div class="b y" style="left:344px;top:1476px;width:31px;height:14.5px">鹿鼎山</div>
<div class="b g" style="left:378px;top:1423.5px;width:60px;height:46px">NPC-摘星道人<br>可兑换<br>掌托天门<br>摘星换斗</div>
<div class="b y" style="left:440px;top:1423.5px;width:32px;height:14.5px">六道沟</div>
<div class="b y" style="left:440px;top:1449.5px;width:32px;height:14.5px">三江原</div>
<div class="b y" style="left:440px;top:1476px;width:32px;height:14.5px">来皮沟</div>
<div class="b y" style="left:440px;top:1502px;width:32px;height:14.5px">威虎岭</div>
<div class="b g" style="left:474px;top:1423.5px;width:60px;height:46px">NPC-武馆教头<br>可以兑换<br>打躬势<br>工尾势</div>
<div class="b g" style="left:537px;top:1423.5px;width:60px;height:56px">NPC-飞天馆主<br>可以兑换<br>出爪亮翅<br>青龙探爪<br>卧虎扑食</div>
<div class="b y" style="left:704px;top:1433px;width:39px;height:15px">英雄大会</div>
<div class="b g gb" style="left:599px;top:1460px;width:153px;height:35px">NPC-齐人之福（王语嫣）</div>
<div class="b y" style="left:755px;top:1460px;width:31px;height:14.5px">卫辉城</div>
<div class="b y" style="left:755px;top:1486px;width:31px;height:14.5px">天台山</div>
<div class="b g" style="left:789px;top:1434px;width:83px;height:45px">NPC-庄丑丑（铁丑）<br>可获得<br>横担降魔杵<br>三盘落地</div>
<div class="b y" style="left:932px;top:1434px;width:39px;height:14.5px">神仙难救</div>
<div class="b g gb" style="left:875px;top:1460px;width:152px;height:35px">NPC-阿朱</div>
<div class="b y" style="left:1030px;top:1423.5px;width:47px;height:14.5px">大辽赛马场</div>
<div class="b y" style="left:1084px;top:1434px;width:38px;height:14.5px">偶知身世</div>
<div class="b y" style="left:1088px;top:1460px;width:31px;height:14.5px">姐妹相</div>
<div class="b y" style="left:1084px;top:1486px;width:38px;height:14.5px">大辽皇宫</div>
<div class="b y" style="left:1088px;top:1512px;width:31px;height:14.5px">雁门关</div>
<div class="b" style="left:1081px;top:1538px;width:44px;height:15px;background:#00b050">NPC-阿紫</div>
</div></body></html>
